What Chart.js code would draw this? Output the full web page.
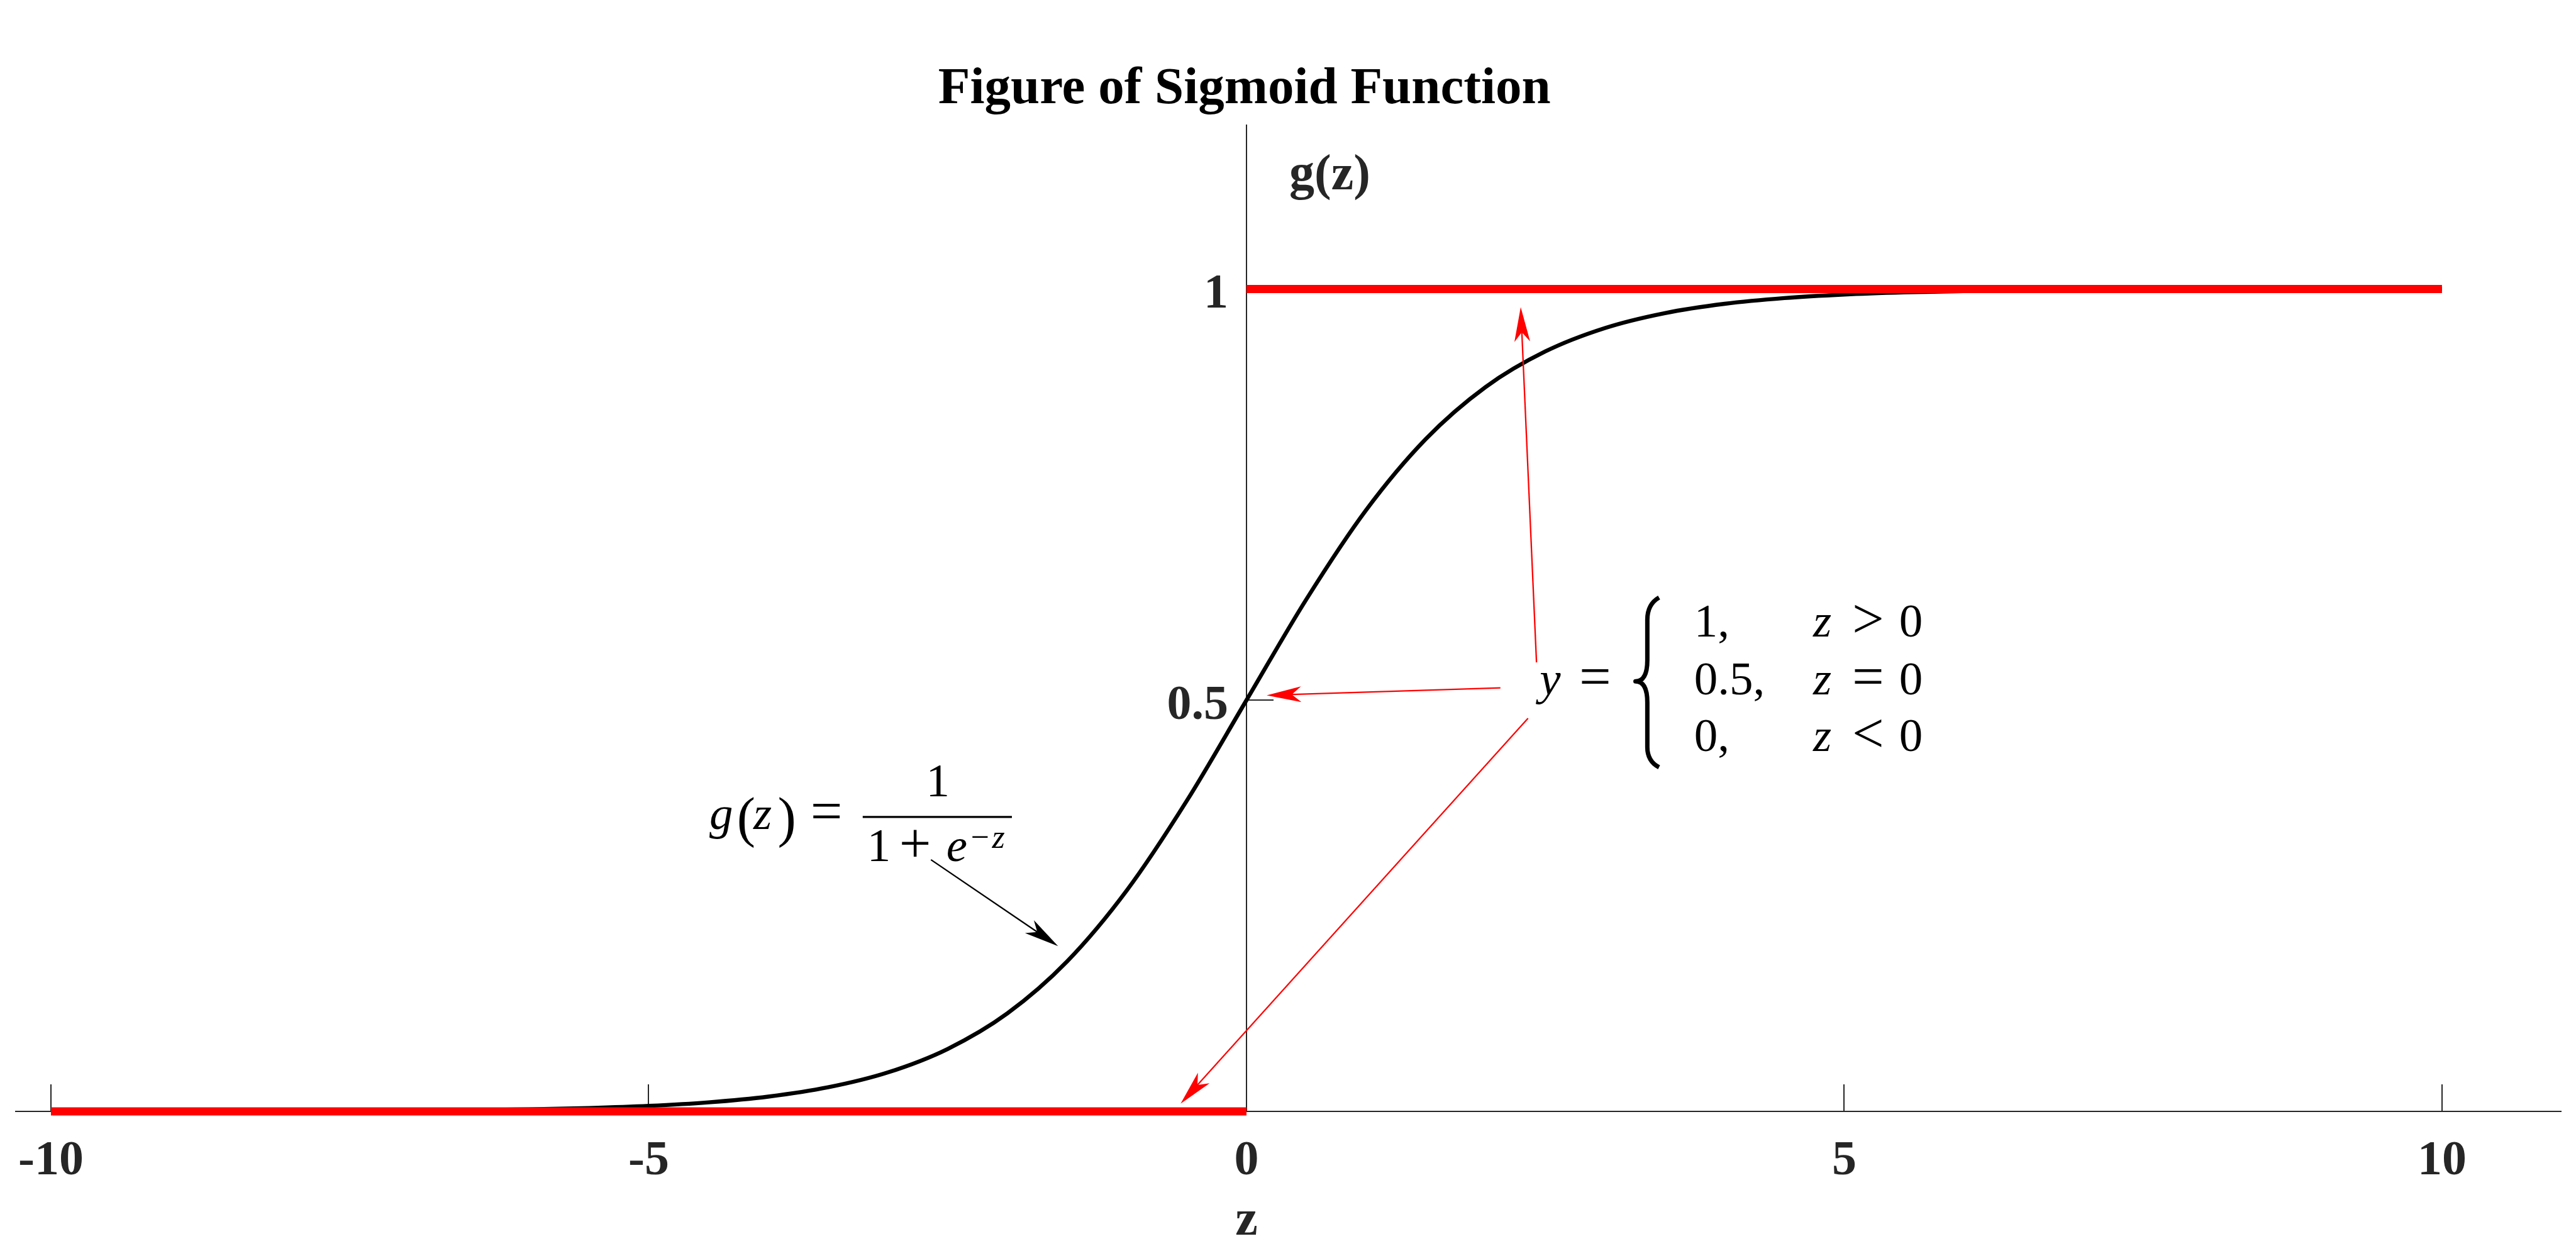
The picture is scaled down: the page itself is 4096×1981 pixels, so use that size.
<!DOCTYPE html>
<html>
<head>
<meta charset="utf-8">
<title>Figure of Sigmoid Function</title>
<script src="https://cdn.jsdelivr.net/npm/chart.js@4.4.1/dist/chart.umd.min.js"></script>
<style>
    html, body { margin: 0; padding: 0; background: #ffffff; overflow: hidden; }
    canvas { display: block; }
</style>
</head>
<body>
<canvas id="sigmoidChart" width="4096" height="1981"></canvas>
<script>
// z samples and g(z)
const zValues = [-10, -9.5, -9, -8.5, -8, -7.5, -7, -6.5, -6, -5.5, -5, -4.5, -4, -3.5, -3, -2.5, -2, -1.5, -1, -0.5,
    0, 0.5, 1, 1.5, 2, 2.5, 3, 3.5, 4, 4.5, 5, 5.5, 6, 6.5, 7, 7.5, 8, 8.5, 9, 9.5, 10];
const gValues = [0.0000, 0.0001, 0.0001, 0.0002, 0.0003, 0.0006, 0.0009, 0.0015, 0.0025, 0.0041, 0.0067, 0.0110,
    0.0180, 0.0293, 0.0474, 0.0759, 0.1192, 0.1824, 0.2689, 0.3775,
    0.5, 0.6225, 0.7311, 0.8176, 0.8808, 0.9241, 0.9526, 0.9707, 0.9820, 0.9890, 0.9933, 0.9959,
    0.9975, 0.9985, 0.9991, 0.9994, 0.9997, 0.9998, 0.9999, 0.9999, 1.0000];

// the two red step levels
const upperZ = [0, 10];
const upperG = [1, 1];
const lowerZ = [-10, 0];
const lowerG = [0, 0];

// axis ticks
const xTicks = [-10, -5, 0, 5, 10];
const xTickLabels = ['-10', '-5', '0', '5', '10'];
const yTicks = [0.5, 1];
const yTickLabels = ['0.5', '1'];

const SERIF = '"Liberation Serif", "Times New Roman", serif';
const AXIS_COLOR = '#262626';
const MATH_SIZE = 75;

function toPoints(xs, ys) {
    return xs.map((x, i) => ({ x: x, y: ys[i] }));
}

function drawArrow(ctx, x1, y1, x2, y2, color) {
    const len = Math.hypot(x2 - x1, y2 - y1);
    const ux = (x2 - x1) / len, uy = (y2 - y1) / len;
    const nx = -uy, ny = ux;
    const headLen = 55, halfW = 12.5, notch = 40;
    ctx.strokeStyle = color;
    ctx.fillStyle = color;
    ctx.lineWidth = 2.3;
    ctx.beginPath();
    ctx.moveTo(x1, y1);
    ctx.lineTo(x2 - ux * notch, y2 - uy * notch);
    ctx.stroke();
    ctx.beginPath();
    ctx.moveTo(x2, y2);
    ctx.lineTo(x2 - ux * headLen + nx * halfW, y2 - uy * headLen + ny * halfW);
    ctx.lineTo(x2 - ux * notch, y2 - uy * notch);
    ctx.lineTo(x2 - ux * headLen - nx * halfW, y2 - uy * headLen - ny * halfW);
    ctx.closePath();
    ctx.fill();
}

// annotation anchors, in axis units
const redArrows = [
    { from: [2.124, 0.515], to: [0.169, 0.506] },
    { from: [2.426, 0.546], to: [2.294, 0.978] },
    { from: [2.355, 0.478], to: [-0.551, 0.0094] }
];
const blackArrow = { from: [-2.639, 0.306], to: [-1.576, 0.201] };

// pieces of the two formulas: text, position, italic, align, size
const mathPieces = [
    // y = { ... }
    ['y', 2.453, 0.507, true, 'left'],
    ['=', 2.916, 0.5055, false, 'center', 90],
    ['1,', 3.745, 0.5771, false, 'left'],
    ['0.5,', 3.745, 0.5071, false, 'left'],
    ['0,', 3.745, 0.4382, false, 'left'],
    ['z', 4.740, 0.5771, true, 'left'],
    ['z', 4.740, 0.5071, true, 'left'],
    ['z', 4.740, 0.4382, true, 'left'],
    ['>', 5.200, 0.5756, false, 'center', 90],
    ['=', 5.200, 0.5056, false, 'center', 90],
    ['<', 5.200, 0.4367, false, 'center', 90],
    ['0', 5.558, 0.5771, false, 'center'],
    ['0', 5.558, 0.5071, false, 'center'],
    ['0', 5.558, 0.4382, false, 'center'],
    // g(z) = 1 / (1 + e^-z)
    ['g', -4.4926, 0.3432, true, 'left'],
    ['(', -4.262, 0.3350, false, 'left', 88],
    ['z', -4.124, 0.3432, true, 'left'],
    [')', -3.921, 0.3350, false, 'left', 88],
    ['=', -3.513, 0.3417, false, 'center', 90],
    ['1', -2.581, 0.3831, false, 'center'],
    ['1', -3.173, 0.3043, false, 'left'],
    ['+', -2.771, 0.3028, false, 'center', 90],
    ['e', -2.510, 0.3043, true, 'left'],
    ['\u2212', -2.307, 0.3205, false, 'left', 52],
    ['z', -2.128, 0.3205, true, 'left', 52]
];

const sigmoidDecor = {
    id: 'sigmoidDecor',
    beforeDatasetsDraw(chart) {
        const ctx = chart.ctx;
        const ca = chart.chartArea;
        const xs = chart.scales.x, ys = chart.scales.y;
        const x0 = Math.round(xs.getPixelForValue(0)), y0 = Math.round(ys.getPixelForValue(0));

        ctx.save();
        // axes crossing at the origin, ticks pointing inwards
        ctx.strokeStyle = AXIS_COLOR;
        ctx.lineWidth = 2;
        ctx.beginPath();
        ctx.moveTo(ca.left, y0);
        ctx.lineTo(ca.right, y0);
        ctx.moveTo(x0, ca.top);
        ctx.lineTo(x0, y0);
        xTicks.forEach(v => {
            const px = Math.round(xs.getPixelForValue(v));
            ctx.moveTo(px, y0);
            ctx.lineTo(px, y0 - 43);
        });
        yTicks.forEach(v => {
            const py = Math.round(ys.getPixelForValue(v));
            ctx.moveTo(x0, py);
            ctx.lineTo(x0 + 43, py);
        });
        ctx.stroke();

        // tick labels and axis names
        ctx.fillStyle = AXIS_COLOR;
        ctx.font = 'bold 78px ' + SERIF;
        ctx.textBaseline = 'alphabetic';
        ctx.textAlign = 'center';
        xTicks.forEach((v, i) => ctx.fillText(xTickLabels[i], xs.getPixelForValue(v), y0 + 100));
        ctx.textAlign = 'right';
        yTicks.forEach((v, i) => ctx.fillText(yTickLabels[i], x0 - 29, ys.getPixelForValue(v) + 29.5));

        ctx.font = 'bold 80px ' + SERIF;
        ctx.textAlign = 'center';
        ctx.fillText('z', x0, y0 + 196);
        ctx.textAlign = 'left';
        ctx.fillText('g(z)', xs.getPixelForValue(0.358), ys.getPixelForValue(1.121));

        ctx.fillStyle = '#000000';
        ctx.font = 'bold 83px ' + SERIF;
        ctx.textAlign = 'center';
        ctx.fillText('Figure of Sigmoid Function', xs.getPixelForValue(-0.017), ys.getPixelForValue(1.226));
        ctx.restore();
    },
    afterDatasetsDraw(chart) {
        const ctx = chart.ctx;
        const xs = chart.scales.x, ys = chart.scales.y;
        const px = v => xs.getPixelForValue(v);
        const py = v => ys.getPixelForValue(v);

        ctx.save();
        redArrows.forEach(a => drawArrow(ctx, px(a.from[0]), py(a.from[1]), px(a.to[0]), py(a.to[1]), '#ff0000'));
        drawArrow(ctx, px(blackArrow.from[0]), py(blackArrow.from[1]), px(blackArrow.to[0]), py(blackArrow.to[1]), '#000000');

        // formula text
        ctx.fillStyle = '#000000';
        ctx.textBaseline = 'alphabetic';
        mathPieces.forEach(p => {
            const size = p[5] || MATH_SIZE;
            ctx.font = (p[3] ? 'italic ' : '') + size + 'px ' + SERIF;
            ctx.textAlign = p[4];
            ctx.fillText(p[0], px(p[1]), py(p[2]));
        });

        // fraction bar
        ctx.strokeStyle = '#000000';
        ctx.lineWidth = 3.2;
        ctx.beginPath();
        ctx.moveTo(px(-3.210), py(0.358));
        ctx.lineTo(px(-1.962), py(0.358));
        ctx.stroke();

        // left brace of the piecewise definition
        const bx = px(3.353), tipX = px(3.254), endX = px(3.451);
        const top = py(0.6248), t2 = py(0.5977), t3 = py(0.5485);
        const mid = py(0.5229), b3 = py(0.4973), b2 = py(0.4431), bot = py(0.4185);
        ctx.lineWidth = 7;
        ctx.lineJoin = 'round';
        ctx.beginPath();
        ctx.moveTo(endX, top);
        ctx.quadraticCurveTo(bx, top + (t2 - top) * 0.3, bx, t2);
        ctx.lineTo(bx, t3);
        ctx.quadraticCurveTo(bx, mid, tipX, mid);
        ctx.quadraticCurveTo(bx, mid, bx, b3);
        ctx.lineTo(bx, b2);
        ctx.quadraticCurveTo(bx, bot - (bot - b2) * 0.3, endX, bot);
        ctx.stroke();
        ctx.restore();
    }
};

const ctx = document.getElementById('sigmoidChart').getContext('2d');
new Chart(ctx, {
    type: 'line',
    data: {
        datasets: [
            {
                label: 'y = 1',
                data: toPoints(upperZ, upperG),
                borderColor: '#ff0000',
                borderWidth: 13,
                pointRadius: 0,
                clip: false,
                order: 0
            },
            {
                label: 'y = 0',
                data: toPoints(lowerZ, lowerG),
                borderColor: '#ff0000',
                borderWidth: 13,
                pointRadius: 0,
                clip: false,
                order: 1
            },
            {
                label: 'g(z)',
                data: toPoints(zValues, gValues),
                borderColor: '#000000',
                borderWidth: 6.4,
                pointRadius: 0,
                cubicInterpolationMode: 'monotone',
                clip: false,
                order: 2
            }
        ]
    },
    options: {
        responsive: false,
        devicePixelRatio: 1,
        animation: false,
        layout: {
            padding: { left: 24, right: 23, top: 198, bottom: 214 }
        },
        plugins: {
            legend: { display: false },
            title: { display: false },
            tooltip: { enabled: false }
        },
        scales: {
            x: {
                type: 'linear',
                min: -10.3,
                max: 11,
                display: false,
                afterBuildTicks: s => { s.ticks = xTicks.map(v => ({ value: v })); }
            },
            y: {
                type: 'linear',
                min: 0,
                max: 1.2,
                display: false,
                afterBuildTicks: s => { s.ticks = yTicks.map(v => ({ value: v })); }
            }
        }
    },
    plugins: [sigmoidDecor]
});
</script>
</body>
</html>
